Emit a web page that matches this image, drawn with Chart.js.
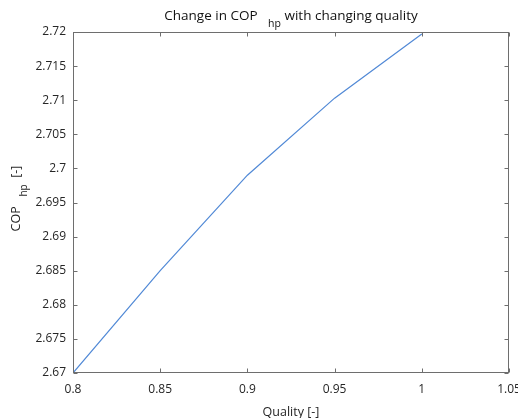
<!DOCTYPE html>
<html>
<head>
<meta charset="utf-8">
<script src="https://cdn.jsdelivr.net/npm/chart.js@4/dist/chart.umd.min.js"></script>
<style>
  html, body { margin: 0; padding: 0; background: #ffffff; }
  #wrap { width: 518px; height: 418px; }
</style>
</head>
<body>
<div id="wrap"><canvas id="c" width="518" height="418"></canvas></div>
<script>
// Heat pump COP as a function of refrigerant quality
const quality = [0.8, 0.85, 0.9, 0.95, 1.0];
const copHp = [2.67, 2.685, 2.699, 2.7103, 2.7197];

const xTicks = [0.8, 0.85, 0.9, 0.95, 1, 1.05];
const yTicks = [2.67, 2.675, 2.68, 2.685, 2.69, 2.695, 2.7, 2.705, 2.71, 2.715, 2.72];

const FONT = '"Open Sans", "DejaVu Sans", sans-serif';
const TEXT = '#262626';
const AXIS = '#6e6e6e';

const fmt = v => String(Number(Number(v).toFixed(4)));

// Draws a run of text segments; segments marked as subscript are smaller and lowered
function drawSegments(ctx, segs, x, y, size, subSize, subDrop, align) {
  let total = 0;
  const widths = segs.map(s => {
    ctx.font = (s[1] ? subSize : size) + 'px ' + FONT;
    const w = ctx.measureText(s[0]).width;
    total += w;
    return w;
  });
  let cx = align === 'center' ? x - total / 2 : x;
  segs.forEach((s, i) => {
    ctx.font = (s[1] ? subSize : size) + 'px ' + FONT;
    ctx.fillText(s[0], cx, s[1] ? y + subDrop : y);
    cx += widths[i];
  });
}

const frame = {
  id: 'frame',
  beforeDraw(chart) {
    const ctx = chart.ctx;
    ctx.save();
    ctx.fillStyle = '#ffffff';
    ctx.fillRect(0, 0, chart.width, chart.height);
    ctx.restore();
  },
  afterDraw(chart) {
    const ctx = chart.ctx;
    const a = chart.chartArea;
    const xs = chart.scales.x, ys = chart.scales.y;
    ctx.save();
    ctx.strokeStyle = AXIS;
    ctx.lineWidth = 1;
    const L = Math.round(a.left) + 0.5, R = Math.round(a.right) - 0.5;
    const T = Math.round(a.top) + 0.5, B = Math.round(a.bottom) - 0.5;
    ctx.strokeRect(L, T, R - L, B - T);
    const tl = 4;
    ctx.beginPath();
    xTicks.forEach(v => {
      const px = Math.round(xs.getPixelForValue(v)) + 0.5;
      ctx.moveTo(px, B); ctx.lineTo(px, B - tl);
      ctx.moveTo(px, T); ctx.lineTo(px, T + tl);
    });
    yTicks.forEach(v => {
      const py = Math.round(ys.getPixelForValue(v)) + 0.5;
      ctx.moveTo(L, py); ctx.lineTo(L + tl, py);
      ctx.moveTo(R, py); ctx.lineTo(R - tl, py);
    });
    ctx.stroke();

    // Title
    ctx.fillStyle = '#111111';
    ctx.textBaseline = 'alphabetic';
    ctx.textAlign = 'left';
    drawSegments(ctx, [['Change in COP', false], ['   ', false], ['hp', true], [' with changing quality', false]],
      (a.left + a.right) / 2, 20, 13.5, 10.5, 7, 'center');

    // X axis label
    ctx.fillStyle = TEXT;
    drawSegments(ctx, [['Quality [-]', false]], (a.left + a.right) / 2, 416, 12.5, 10, 0, 'center');

    // Y axis label (rotated)
    ctx.translate(20, (a.top + a.bottom) / 2 - 4);
    ctx.rotate(-Math.PI / 2);
    drawSegments(ctx, [['COP', false], ['   ', false], ['hp', true], ['  [-]', false]], 0, 0, 12.5, 10, 7, 'center');
    ctx.restore();
  }
};

new Chart(document.getElementById('c'), {
  type: 'line',
  data: {
    datasets: [{
      data: quality.map((q, i) => ({ x: q, y: copHp[i] })),
      borderColor: '#5189d6',
      borderWidth: 1.2,
      pointRadius: 0,
      fill: false,
      tension: 0
    }]
  },
  options: {
    responsive: false,
    animation: false,
    layout: { padding: { top: 32, right: 9, left: 0, bottom: 0 } },
    plugins: { legend: { display: false }, tooltip: { enabled: false }, title: { display: false } },
    scales: {
      x: {
        type: 'linear',
        min: 0.8, max: 1.05,
        afterFit(s) { s.height = 45; s.paddingLeft = 0; s.paddingRight = 0; },
        afterBuildTicks(s) { s.ticks = xTicks.map(v => ({ value: v })); },
        grid: { display: false, drawTicks: false },
        border: { display: false },
        ticks: {
          padding: 9,
          autoSkip: false,
          maxRotation: 0,
          color: TEXT,
          font: { family: FONT, size: 12 },
          callback: v => fmt(v)
        }
      },
      y: {
        type: 'linear',
        min: 2.67, max: 2.72,
        afterFit(s) { s.width = 73; s.paddingTop = 0; s.paddingBottom = 0; },
        afterBuildTicks(s) { s.ticks = yTicks.map(v => ({ value: v })); },
        grid: { display: false, drawTicks: false },
        border: { display: false },
        ticks: {
          padding: 7,
          autoSkip: false,
          color: TEXT,
          font: { family: FONT, size: 12 },
          callback: v => fmt(v)
        }
      }
    }
  },
  plugins: [frame]
});
</script>
</body>
</html>
